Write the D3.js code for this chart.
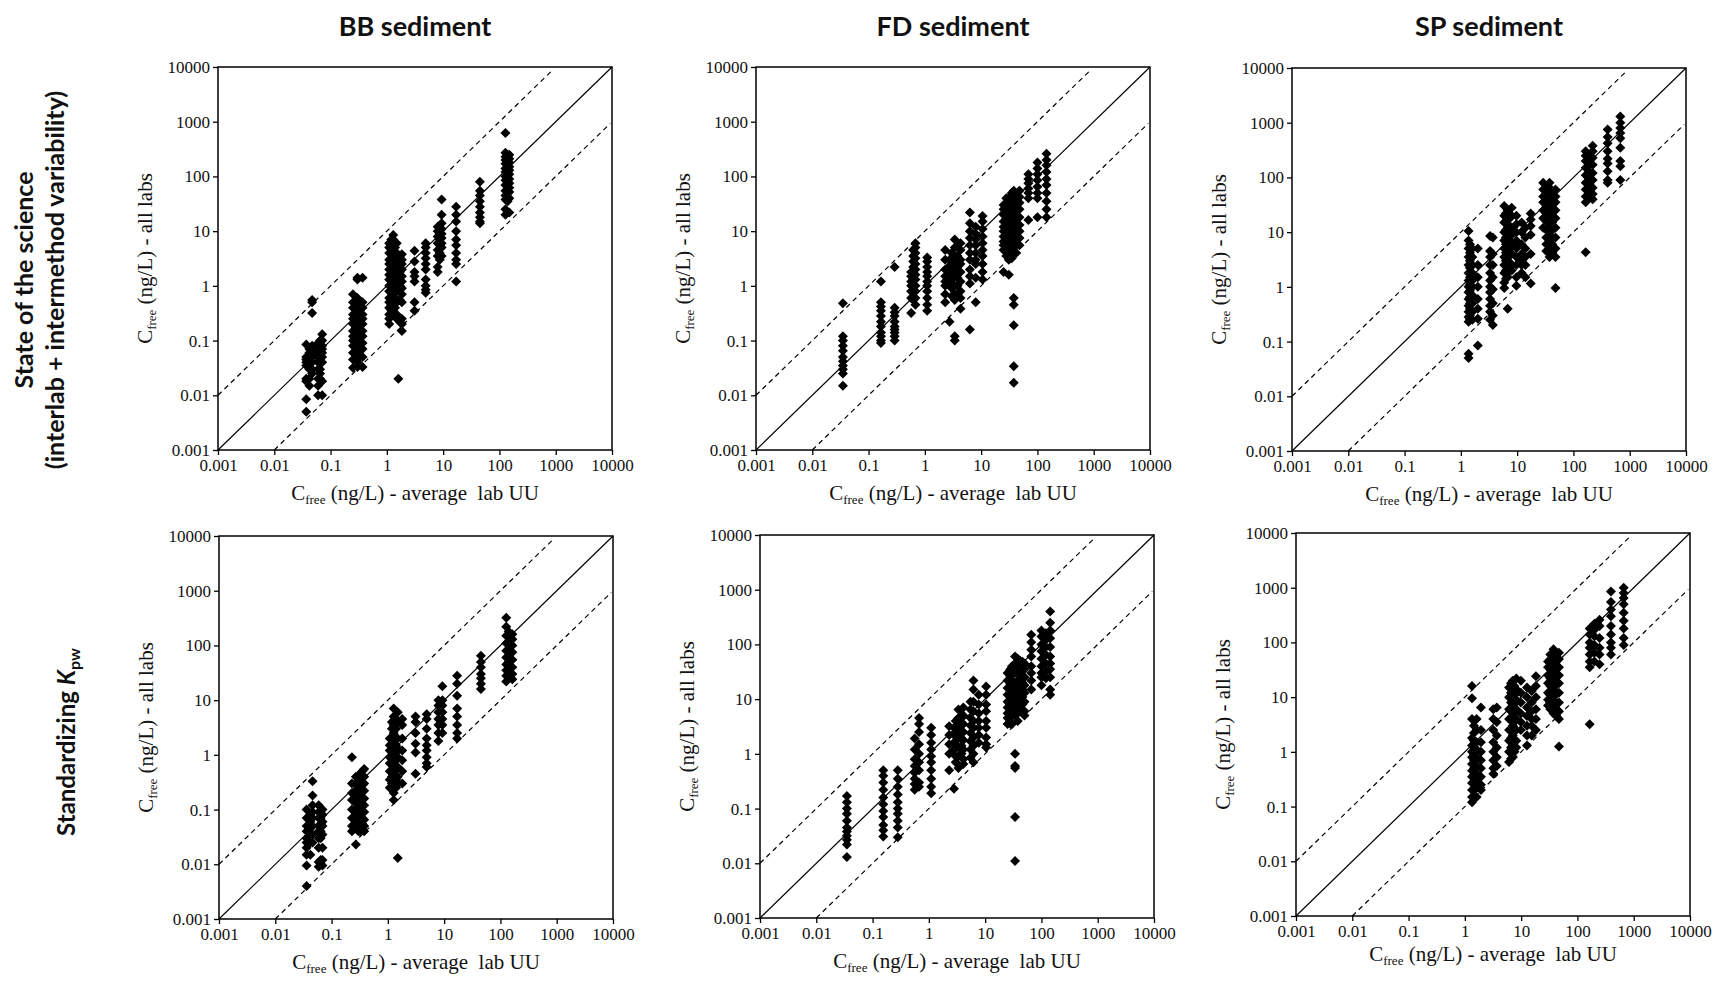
<!DOCTYPE html>
<html>
<head>
<meta charset="utf-8">
<script src="https://cdn.jsdelivr.net/npm/d3@7"></script>
<style>
  body { margin: 0; background: #fff; }
  svg text { fill: #111; }
  .tick text { font-family: "Liberation Serif", "Times New Roman", serif; font-size: 17px; }
  .axis-title { font-family: "Liberation Serif", "Times New Roman", serif; font-size: 21px; }
  .panel-title, .row-label { font-family: Lato, "Open Sans", sans-serif; font-weight: 700; }
</style>
</head>
<body>
<svg id="fig" width="1716" height="981"></svg>
<script>
// Column headings and axis ticks
const sediments = ["BB sediment", "FD sediment", "SP sediment"];
const tickValues = [0.001, 0.01, 0.1, 1, 10, 100, 1000, 10000];
const tickLabels = ["0.001", "0.01", "0.1", "1", "10", "100", "1000", "10000"];

// Each entry: [Cfree average lab UU, [Cfree reported by all labs ...]]  (ng/L)
const bbState = [
  [0.037, [0.085, 0.05, 0.045, 0.04, 0.035, 0.02, 0.018, 0.0085, 0.005]],
  [0.042, [0.07, 0.06, 0.045, 0.03, 0.02, 0.015]],
  [0.047, [0.55, 0.5, 0.32, 0.08, 0.06, 0.05, 0.04, 0.03, 0.025]],
  [0.06,  [0.09, 0.07, 0.06, 0.05, 0.04, 0.03, 0.02, 0.015, 0.01]],
  [0.065, [0.1, 0.08, 0.06, 0.045, 0.03, 0.025, 0.02]],
  [0.071, [0.13, 0.1, 0.08, 0.07, 0.06, 0.05, 0.04, 0.018, 0.01]],
  [0.25,  [0.7, 0.5, 0.4, 0.3, 0.25, 0.2, 0.15, 0.12, 0.1, 0.08, 0.06, 0.045, 0.032]],
  [0.28,  [0.5, 0.4, 0.3, 0.23, 0.17, 0.13, 0.1, 0.075, 0.055, 0.045]],
  [0.30,  [1.3, 1.4, 0.6, 0.45, 0.35, 0.28, 0.22, 0.18, 0.14, 0.11, 0.09, 0.07, 0.05, 0.04, 0.033]],
  [0.33,  [0.45, 0.35, 0.27, 0.2, 0.16, 0.12, 0.09, 0.065, 0.05]],
  [0.37,  [1.4, 0.5, 0.4, 0.3, 0.25, 0.2, 0.15, 0.12, 0.09, 0.07, 0.05, 0.033]],
  [1.1,   [6, 5, 4, 3, 2.5, 2, 1.6, 1.3, 1.0, 0.8, 0.6, 0.5, 0.4, 0.3, 0.25, 0.2]],
  [1.2,   [7, 5, 4, 3.2, 2.4, 1.9, 1.5, 1.2, 0.95, 0.75, 0.55, 0.45, 0.35, 0.28]],
  [1.3,   [8.5, 7, 5.5, 4.5, 3.5, 2.8, 2.2, 1.8, 1.4, 1.1, 0.9, 0.7, 0.5, 0.35, 0.3]],
  [1.4,   [5, 3.5, 2.5, 1.7, 1.3, 0.9, 0.6, 0.4]],
  [1.5,   [6, 4, 3, 2, 1.5, 1.2, 1, 0.8, 0.5, 0.3, 0.25]],
  [1.6,   [0.02]],
  [1.7,   [3.5, 2.5, 1.8, 1.4, 1, 0.55, 0.22]],
  [1.85,  [3.8, 3, 2.5, 2, 1.5, 1.2, 0.9, 0.7, 0.5, 0.25, 0.2, 0.15]],
  [3.1,   [4.4, 2.8, 1.8, 1.5, 1.2, 0.5, 0.35]],
  [4.9,   [6, 5, 4, 3.2, 2.5, 2, 1.3, 1, 0.85, 0.75]],
  [8,     [12, 10, 8, 6, 4.5, 3.5, 2.2, 1.8]],
  [8.7,   [9, 7, 5.5, 4, 3]],
  [9.4,   [38, 20, 14, 11, 9, 7.5, 6, 5, 3.5]],
  [17,    [28, 20, 15, 10, 7, 5.5, 4, 3, 2.5, 1.2]],
  [45,    [80, 55, 45, 35, 28, 22, 18, 15, 14]],
  [128,   [620, 270, 230, 200, 170, 140, 120, 100, 85, 70, 55, 45, 38, 25, 20]],
  [140,   [230, 190, 160, 140, 115, 95, 80, 65, 50, 42, 35]],
  [150,   [250, 210, 180, 150, 130, 110, 90, 75, 62, 52, 40, 22]]
];

const fdState = [
  [0.035, [0.48, 0.12, 0.1, 0.08, 0.065, 0.05, 0.042, 0.035, 0.03, 0.025, 0.015]],
  [0.166, [1.2, 0.5, 0.42, 0.35, 0.28, 0.22, 0.18, 0.14, 0.12, 0.1, 0.09]],
  [0.29,  [2.2, 0.4, 0.33, 0.28, 0.22, 0.18, 0.16, 0.14, 0.12, 0.1]],
  [0.57,  [1.8, 1.5, 1.2, 1, 0.8, 0.6, 0.32]],
  [0.62,  [4.5, 3.5, 2.8, 2.2, 1.7, 1.3, 1, 0.75, 0.55]],
  [0.68,  [6, 5, 4, 3.2, 2.5, 2, 1.6, 1.3, 1.0, 0.8, 0.6, 0.45]],
  [1.1,   [3.3, 2.8, 2.2, 1.8, 1.5, 1.2, 1.0, 0.8, 0.6, 0.45, 0.35]],
  [2.3,   [4.5, 3, 2, 1.5, 1.2, 1, 0.7, 0.5]],
  [2.75,  [3, 2.2, 1.8, 1.4, 1.1, 0.22]],
  [3.0,   [4, 3, 2.3, 1.7, 1.3, 0.9, 0.65]],
  [3.4,   [7, 5, 3.5, 2.5, 2, 1.5, 1, 0.7, 0.55, 0.12, 0.1]],
  [3.8,   [5, 3.5, 2.6, 1.9, 1.4, 1, 0.7]],
  [4.3,   [6, 4.5, 3, 2.5, 1.8, 1.2, 0.8, 0.6, 0.38]],
  [6.3,   [22, 14, 10, 7.5, 5.5, 4, 3, 2, 1.5, 1.1, 0.16]],
  [8,     [12, 9, 7, 5.5, 4, 3, 2.5, 1.4, 0.5]],
  [10.6,  [19, 15, 11, 8, 6, 4.5, 3.5, 2.5, 1.8, 1.3]],
  [25,    [30, 25, 20, 15, 12, 10, 8, 6.5, 5.5, 4.5, 1.8]],
  [28,    [40, 30, 22, 17, 13, 10, 8, 6, 4.5, 3.5]],
  [31,    [40, 32, 25, 20, 15, 12, 9, 7, 5.5, 4, 3, 1.6]],
  [35,    [50, 38, 28, 20, 15, 11, 8, 6, 4.5, 3.2]],
  [38,    [55, 45, 35, 28, 22, 17, 13, 10, 8, 6, 4, 0.6, 0.45, 0.19, 0.034, 0.017]],
  [42,    [45, 35, 26, 19, 14, 10, 7.5, 5.5, 4]],
  [48,    [55, 42, 33, 25, 18, 13, 10, 7.5, 5.5]],
  [69,    [110, 90, 75, 60, 50, 40, 16]],
  [100,   [180, 140, 110, 85, 65, 50, 40, 18]],
  [145,   [260, 200, 160, 120, 90, 70, 50, 35, 25, 18]]
];

const spState = [
  [1.37, [10.5, 7, 5, 3.5, 2.5, 1.8, 1.3, 1, 0.8, 0.6, 0.45, 0.35, 0.28, 0.23, 0.06, 0.05]],
  [1.45, [6, 4.2, 3, 2.2, 1.5, 1.1, 0.85, 0.65, 0.5, 0.4, 0.3, 0.25]],
  [1.6,  [5, 3.5, 2.5, 1.8, 1.3, 1, 0.7, 0.5, 0.35, 0.25]],
  [2,    [5, 2.5, 1.5, 1, 0.6, 0.4, 0.26, 0.085]],
  [3.3,  [8.5, 4.5, 3.5, 2.5, 1.8, 1.3, 1, 0.8, 0.6, 0.45, 0.35, 0.25]],
  [3.7,  [8, 4, 2.5, 1.5, 0.9, 0.5, 0.3, 0.2]],
  [5.9,  [30, 20, 15, 10, 7, 5, 3.5, 2.5, 1.8, 1.2, 0.95]],
  [6.3,  [22, 16, 11, 8, 6, 4.2, 3, 2, 1.4]],
  [6.8,  [25, 18, 12, 8, 6, 4.5, 3, 2.2, 1.5, 0.4]],
  [7.4,  [18, 13, 9, 7, 5, 3.8, 2.8, 2]],
  [8,    [28, 20, 12, 9, 6, 4, 2.5, 2]],
  [9.7,  [20, 14, 10, 7, 5, 3.5, 2.5, 1.5, 1.05]],
  [12,   [15, 10, 6, 4, 3, 2.5, 1.8]],
  [14,   [12, 8, 5, 3.5, 2.5, 1.5]],
  [17.4, [22, 17, 13, 9, 4, 1.15]],
  [29,   [80, 60, 45, 35, 25, 18, 12]],
  [33,   [70, 50, 40, 30, 22, 16, 11, 8, 6, 4.5]],
  [37.6, [80, 65, 50, 38, 28, 20, 14, 10, 7, 5, 3.5]],
  [42,   [55, 45, 35, 27, 20, 15, 11, 8, 6, 4.2]],
  [48,   [60, 45, 35, 25, 18, 12, 8, 5, 3.5, 0.95]],
  [165,  [300, 250, 200, 150, 110, 80, 60, 45, 35, 4.3]],
  [190,  [260, 210, 170, 130, 100, 75, 55, 42]],
  [220,  [380, 300, 230, 170, 120, 90, 65, 50, 40]],
  [405,  [750, 550, 420, 300, 220, 180, 130, 90, 80]],
  [680,  [1300, 1000, 800, 650, 520, 350, 200, 160, 90]]
];

const bbKpw = [
  [0.036, [0.1, 0.07, 0.05, 0.04, 0.03, 0.025, 0.02, 0.015, 0.0095, 0.004]],
  [0.042, [0.08, 0.06, 0.045, 0.035, 0.025, 0.015]],
  [0.046, [0.33, 0.18, 0.12, 0.09, 0.07, 0.05, 0.035, 0.025]],
  [0.059, [0.12, 0.09, 0.07, 0.05, 0.04, 0.03, 0.02, 0.011, 0.009]],
  [0.064, [0.09, 0.07, 0.055, 0.04, 0.03, 0.012]],
  [0.069, [0.1, 0.08, 0.06, 0.05, 0.035, 0.02, 0.012, 0.0095]],
  [0.23,  [0.9, 0.3, 0.2, 0.15, 0.1, 0.07, 0.05, 0.04]],
  [0.27,  [0.4, 0.3, 0.22, 0.17, 0.13, 0.1, 0.08, 0.06, 0.045, 0.023]],
  [0.30,  [0.4, 0.3, 0.24, 0.18, 0.14, 0.11, 0.085, 0.065, 0.05, 0.04]],
  [0.32,  [0.45, 0.35, 0.27, 0.2, 0.15, 0.12, 0.09, 0.07, 0.05, 0.04]],
  [0.35,  [0.5, 0.38, 0.28, 0.21, 0.16, 0.12, 0.09, 0.07, 0.055, 0.045]],
  [0.38,  [0.55, 0.4, 0.3, 0.22, 0.16, 0.12, 0.09, 0.065, 0.05, 0.04]],
  [1.08,  [2, 1.5, 1.2, 0.9, 0.7, 0.5, 0.35, 0.25]],
  [1.18,  [4, 3, 2, 1.5, 1.1, 0.85, 0.65, 0.5, 0.4, 0.3]],
  [1.27,  [7, 5, 3.5, 2.5, 1.8, 1.3, 1, 0.8, 0.6, 0.45, 0.3, 0.2, 0.15]],
  [1.4,   [4.5, 3, 2, 1.5, 1.1, 0.8, 0.55, 0.35, 0.25]],
  [1.5,   [6, 4, 2, 1.3, 0.9, 0.6, 0.4, 0.3, 0.013]],
  [1.8,   [4.5, 3.5, 2, 1.2, 0.8, 0.5, 0.3]],
  [3.1,   [5, 4, 2.5, 1.6, 1.1, 0.45]],
  [4.9,   [5.5, 4.5, 3, 2, 1.5, 1.2, 0.9, 0.7, 0.6]],
  [7.9,   [10, 8, 6, 4.5, 3.5, 2.5, 1.8]],
  [9.3,   [18, 10, 8, 6, 4.5, 3.5, 2.5]],
  [17,    [28, 20, 12, 7, 5, 3.5, 2.5, 2]],
  [45,    [65, 50, 40, 30, 25, 20, 16]],
  [127,   [320, 220, 150, 110, 80, 60, 45, 35, 28, 22]],
  [140,   [180, 140, 110, 85, 65, 50, 38, 30, 25]],
  [163,   [160, 130, 100, 75, 55, 40, 30, 24]]
];

const fdKpw = [
  [0.035, [0.17, 0.13, 0.1, 0.08, 0.06, 0.045, 0.038, 0.032, 0.027, 0.022, 0.013]],
  [0.155, [0.5, 0.4, 0.3, 0.22, 0.16, 0.12, 0.09, 0.07, 0.05, 0.04, 0.031]],
  [0.28,  [0.5, 0.35, 0.25, 0.18, 0.13, 0.1, 0.08, 0.06, 0.045, 0.03]],
  [0.56,  [1.9, 1.2, 0.8, 0.6, 0.45, 0.35, 0.28, 0.22]],
  [0.67,  [4.5, 3.5, 2.5, 1.5, 1, 0.7, 0.5, 0.3, 0.25]],
  [1.1,   [3, 2.2, 1.6, 1.2, 0.9, 0.7, 0.5, 0.35, 0.25, 0.19]],
  [2.3,   [3.2, 2.2, 1.5, 1, 0.5]],
  [2.8,   [3, 2.2, 1.6, 1.2, 0.23]],
  [3.0,   [4, 3, 2.3, 1.7, 1.3, 0.9, 0.7]],
  [3.35,  [6.5, 4.5, 3, 2, 1.3, 0.9, 0.55]],
  [3.8,   [5, 3.5, 2.6, 1.9, 1.4, 1]],
  [4.1,   [7, 5, 3.5, 2.5, 1.8, 1.2, 0.8, 0.65]],
  [5.5,   [9, 6.5, 4.5, 3.3, 2.4, 1.7, 1.2, 0.85]],
  [6.2,   [22, 15, 9, 6, 4, 3, 2, 1.4, 1, 0.7]],
  [7.7,   [12, 8, 5.5, 4, 3, 2.2, 1.6]],
  [10.4,  [17, 12, 8, 6, 4, 3, 2, 1.5, 1.3]],
  [25,    [30, 22, 16, 12, 9, 7, 5.5, 4.5, 3.5]],
  [28,    [35, 26, 19, 14, 11, 8, 6, 4.5, 3.6]],
  [30,    [40, 30, 22, 16, 12, 9, 7, 5, 3.5]],
  [34,    [60, 45, 30, 20, 14, 10, 7, 5, 1.0, 0.6, 0.55, 0.07, 0.011]],
  [38,    [55, 40, 30, 22, 16, 12, 9, 7, 5.5, 4]],
  [42,    [50, 40, 30, 22, 16, 12, 9, 7]],
  [46,    [48, 36, 27, 20, 15, 11, 8, 6]],
  [50,    [45, 35, 25, 18, 13, 9, 6, 5]],
  [66,    [150, 110, 80, 60, 40, 30, 22, 15]],
  [100,   [180, 140, 100, 75, 55, 40, 30, 25, 18]],
  [120,   [160, 120, 90, 65, 45, 32, 24]],
  [143,   [400, 250, 180, 130, 90, 60, 45, 35, 25, 15, 12]]
];

const spKpw = [
  [1.34, [16, 9.5, 4, 1.8, 1.3, 1, 0.8, 0.6, 0.45, 0.35, 0.27, 0.2, 0.15, 0.12]],
  [1.45, [3, 2.2, 1.6, 1.2, 0.9, 0.7, 0.5, 0.38, 0.28, 0.2, 0.14]],
  [1.62, [4, 2.5, 1.5, 1.1, 0.8, 0.55, 0.4, 0.3, 0.22, 0.15]],
  [1.93, [6.5, 2.5, 1.5, 1, 0.7, 0.5, 0.35, 0.25, 0.2]],
  [3.2,  [6, 4, 2.5, 1.5, 1, 0.7, 0.5, 0.4]],
  [3.7,  [6.5, 3.5, 2, 1.2, 0.8, 0.55]],
  [6.1,  [15, 10, 6, 4, 2.5, 1.6, 1, 0.65]],
  [6.6,  [18, 12, 8, 5.5, 3.8, 2.6, 1.8, 1.2, 0.75]],
  [7.1,  [20, 12, 7, 4.5, 3, 2, 1.3, 0.8]],
  [7.6,  [16, 11, 7.5, 5, 3.5, 2.4, 1.6, 1]],
  [8.2,  [22, 14, 9, 6, 4, 2.5, 1.6, 1.2]],
  [9.9,  [20, 12, 8, 5, 3.5, 2.5]],
  [12.7, [15, 10, 6.5, 4.5, 3, 2, 1.3]],
  [15.4, [13, 8, 5.5, 4, 3, 2]],
  [18.3, [24, 16, 10, 6, 4, 2.5]],
  [30,   [45, 35, 25, 18, 12, 9, 7]],
  [33,   [60, 45, 32, 22, 16, 11, 8, 6]],
  [37.6, [75, 55, 40, 28, 20, 14, 10, 7, 5]],
  [42,   [60, 45, 32, 24, 17, 12, 8, 6, 4.5]],
  [47,   [65, 50, 35, 25, 18, 12, 8, 5.5, 4, 1.25]],
  [165,  [180, 140, 100, 80, 60, 45, 35, 3.2]],
  [200,  [220, 170, 130, 90, 65, 45]],
  [247,  [260, 200, 120, 80, 60, 40]],
  [394,  [850, 550, 400, 300, 200, 140, 100, 80, 60]],
  [663,  [1000, 800, 650, 500, 350, 250, 180, 120, 90]]
];

// Panel grid: rows = approach, columns = sediment
const panels = [
  { data: bbState, left: 218, top: 67,  col: 0, row: 0, xTitle: 50 },
  { data: fdState, left: 756, top: 67,  col: 1, row: 0, xTitle: 50 },
  { data: spState, left: 1292, top: 68, col: 2, row: 0, xTitle: 50 },
  { data: bbKpw,   left: 219, top: 536, col: 0, row: 1, xTitle: 50 },
  { data: fdKpw,   left: 760, top: 535, col: 1, row: 1, xTitle: 50 },
  { data: spKpw,   left: 1296, top: 533, col: 2, row: 1, xTitle: 45 }
];
const W = 394, H = 383;

const svg = d3.select("#fig");
const diamond = r => `M0,${-r}L${r},0L0,${r}L${-r},0Z`;

panels.forEach(p => {
  const x = d3.scaleLog().domain([0.001, 10000]).range([0, W]);
  const y = d3.scaleLog().domain([0.001, 10000]).range([H, 0]);
  const g = svg.append("g").attr("transform", `translate(${p.left},${p.top})`);

  // axes with decade ticks
  const xa = g.append("g").attr("transform", `translate(0,${H})`)
    .call(d3.axisBottom(x).tickValues(tickValues)
      .tickFormat((d, i) => tickLabels[i]).tickSize(5).tickSizeOuter(0).tickPadding(4));
  const ya = g.append("g")
    .call(d3.axisLeft(y).tickValues(tickValues)
      .tickFormat((d, i) => tickLabels[i]).tickSize(5).tickSizeOuter(0).tickPadding(3));
  [xa, ya].forEach(a => {
    a.select(".domain").remove();
    a.selectAll(".tick line").attr("stroke", "#000").attr("stroke-width", 1.3);
  });

  // reference lines: 1:1 and factor-of-10 bounds
  const line = d3.line().x(d => x(d[0])).y(d => y(d[1]));
  g.append("path").attr("d", line([[0.001, 0.001], [10000, 10000]]))
    .attr("fill", "none").attr("stroke", "#000").attr("stroke-width", 1.2);
  g.append("path").attr("d", line([[0.001, 0.01], [900, 9000]]))
    .attr("fill", "none").attr("stroke", "#000").attr("stroke-width", 1.2)
    .attr("stroke-dasharray", "5,4");
  g.append("path").attr("d", line([[0.01, 0.001], [9300, 930]]))
    .attr("fill", "none").attr("stroke", "#000").attr("stroke-width", 1.2)
    .attr("stroke-dasharray", "5,4");

  // frame
  g.append("rect").attr("width", W).attr("height", H)
    .attr("fill", "none").attr("stroke", "#000").attr("stroke-width", 1.5);

  // measurements
  const pts = [];
  p.data.forEach(([xv, ys]) => ys.forEach(v => pts.push([xv, v])));
  g.append("g").selectAll("path").data(pts).join("path")
    .attr("transform", d => `translate(${x(d[0])},${y(d[1])})`)
    .attr("d", diamond(5)).attr("fill", "#000");

  // axis titles
  const xt = g.append("text").attr("class", "axis-title")
    .attr("x", W / 2).attr("y", H + p.xTitle).attr("text-anchor", "middle")
    .attr("style", "white-space:pre");
  xt.append("tspan").text("C");
  xt.append("tspan").attr("font-size", 13).attr("dy", 4).text("free");
  xt.append("tspan").attr("dy", -4).text(" (ng/L) - average  lab UU");

  const yt = g.append("text").attr("class", "axis-title")
    .attr("transform", `translate(-66,${H / 2}) rotate(-90)`).attr("text-anchor", "middle");
  yt.append("tspan").text("C");
  yt.append("tspan").attr("font-size", 13).attr("dy", 4).text("free");
  yt.append("tspan").attr("dy", -4).text(" (ng/L) - all labs");

  if (p.row === 0) {
    svg.append("text").attr("class", "panel-title")
      .attr("x", p.left + W / 2).attr("y", 36).attr("text-anchor", "middle")
      .attr("font-size", 27).text(sediments[p.col]);
  }
});

// row headings
const r1 = svg.append("text").attr("class", "row-label").attr("font-size", 25)
  .attr("text-anchor", "middle").attr("transform", "translate(33,280) rotate(-90)");
r1.append("tspan").attr("x", 0).attr("dy", 0).text("State of the science");
r1.append("tspan").attr("x", 0).attr("dy", 31).text("(interlab + intermethod variability)");

const r2 = svg.append("text").attr("class", "row-label").attr("font-size", 24)
  .attr("text-anchor", "middle").attr("transform", "translate(75,742) rotate(-90)");
r2.append("tspan").text("Standardizing ");
r2.append("tspan").attr("font-style", "italic").text("K");
r2.append("tspan").attr("font-size", 16).attr("dy", 5).text("pw");
</script>
</body>
</html>
